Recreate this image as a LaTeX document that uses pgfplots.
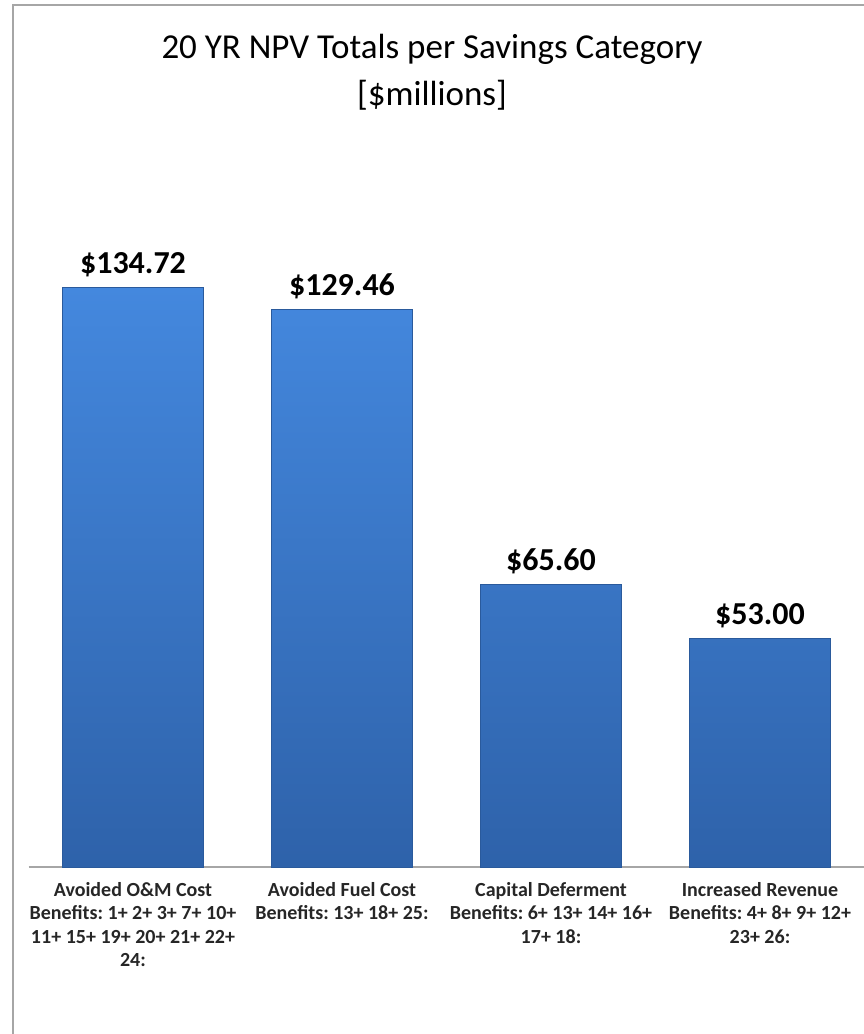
\documentclass[border=0pt]{standalone}
\usepackage{pgfplots}
\pgfplotsset{compat=1.18}
\usepackage{fontspec}
\setmainfont{Carlito}
\definecolor{bartop}{HTML}{4488DE}
\definecolor{barbot}{HTML}{2E62AA}
\definecolor{baredge}{HTML}{2A5A9C}
\definecolor{framegray}{HTML}{A6A6A6}
\begin{document}
\frenchspacing
\begin{tikzpicture}
\path[use as bounding box] (0,0) rectangle (431.5pt,517pt);
\draw[framegray, line width=1.2pt] (6.5pt,-20pt) rectangle (450pt,514.5pt);
\node[align=center, font=\fontsize{17.5}{23.5}\selectfont] at (216pt,481pt) {20 YR NPV Totals per Savings Category\\{[\$millions]}};
\begin{axis}[
  at={(14.25pt,83.5pt)}, anchor=south west,
  scale only axis, width=418pt, height=344.4pt,
  xmin=-0.5, xmax=3.5, ymin=0, ymax=160,
  axis y line=none, axis x line*=bottom,
  x axis line style={draw=framegray, line width=0.8pt},
  xtick={0,1,2,3}, major tick length=0pt,
  xticklabels={{Avoided O\&M Cost\\Benefits: 1+ 2+ 3+ 7+ 10+\\11+ 15+ 19+ 20+ 21+ 22+\\24:},
               {Avoided Fuel Cost\\Benefits: 13+ 18+ 25:},
               {Capital Deferment\\Benefits: 6+ 13+ 14+ 16+\\17+ 18:},
               {Increased Revenue\\Benefits: 4+ 8+ 9+ 12+\\23+ 26:}},
  xticklabel style={align=center, font=\fontsize{10}{11.8}\selectfont\bfseries, text=black!85, anchor=north, yshift=-4pt},
  clip=false,
  point meta=explicit symbolic,
  nodes near coords,
  nodes near coords style={font=\fontsize{16}{19}\selectfont\bfseries, anchor=base, yshift=7pt, text=black},
]
\addplot[ybar, bar width=70.5pt, draw=baredge, line width=0.4pt, top color=bartop, bottom color=barbot]
  coordinates {(0,134.72) [\$134.72] (1,129.46) [\$129.46] (2,65.60) [\$65.60] (3,53.00) [\$53.00]};
\end{axis}
\end{tikzpicture}
\end{document}
